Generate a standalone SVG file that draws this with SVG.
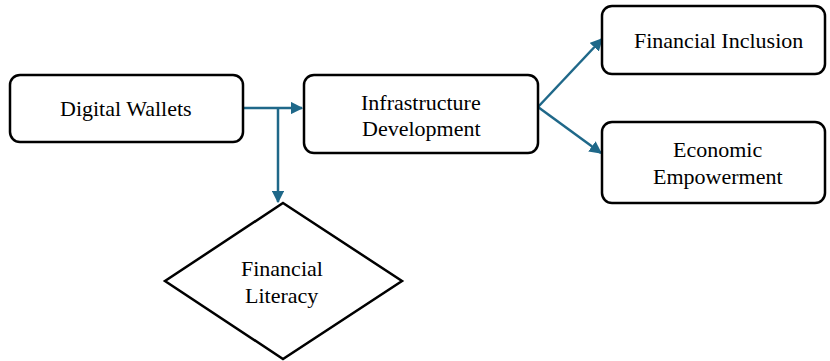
<svg xmlns="http://www.w3.org/2000/svg" width="830" height="361" viewBox="0 0 830 361">
  <style>
    .box { fill: #ffffff; stroke: #000000; stroke-width: 2.5; }
    .link { fill: none; stroke: #1f6889; stroke-width: 2.5; }
  </style>
  <defs>
    <marker id="arrow" viewBox="0 0 10 10" refX="9" refY="5" markerWidth="5" markerHeight="5" orient="auto" markerUnits="strokeWidth">
      <path d="M0,0 L10,5 L0,10 z" fill="#1f6889"/>
    </marker>
  </defs>
  <rect width="830" height="361" fill="#ffffff"/>

  <g id="connectors">
    <path class="link" d="M244,108 L302,108" marker-end="url(#arrow)"/>
    <path class="link" d="M278,108 L278,202" marker-end="url(#arrow)"/>
    <path class="link" d="M538,107 L602,39" marker-end="url(#arrow)"/>
    <path class="link" d="M538,107 L601,153" marker-end="url(#arrow)"/>
  </g>

  <!-- labels are placed by their left edge, centred by hand on each shape -->
  <g id="digital-wallets">
    <rect class="box" x="10" y="75" width="233" height="67" rx="10"/>
    <text x="60" y="116" font-family="'Liberation Serif'" font-size="22">Digital Wallets</text>
  </g>

  <g id="infrastructure-development">
    <rect class="box" x="304" y="75" width="234" height="78" rx="10"/>
    <text x="361" y="110" font-family="'Liberation Serif'" font-size="22">Infrastructure</text>
    <text x="362" y="136" font-family="'Liberation Serif'" font-size="22">Development</text>
  </g>

  <g id="financial-inclusion">
    <rect class="box" x="602" y="6" width="223" height="68" rx="10"/>
    <text x="634" y="48" font-family="'Liberation Serif'" font-size="22">Financial Inclusion</text>
  </g>

  <g id="economic-empowerment">
    <rect class="box" x="602" y="122" width="223" height="81" rx="10"/>
    <text x="673" y="157" font-family="'Liberation Serif'" font-size="22">Economic</text>
    <text x="653" y="184" font-family="'Liberation Serif'" font-size="22">Empowerment</text>
  </g>

  <g id="financial-literacy">
    <polygon class="box" points="283,203 402,281 283,359 165,281"/>
    <text x="241" y="276" font-family="'Liberation Serif'" font-size="22">Financial</text>
    <text x="245" y="303" font-family="'Liberation Serif'" font-size="22">Literacy</text>
  </g>
</svg>
